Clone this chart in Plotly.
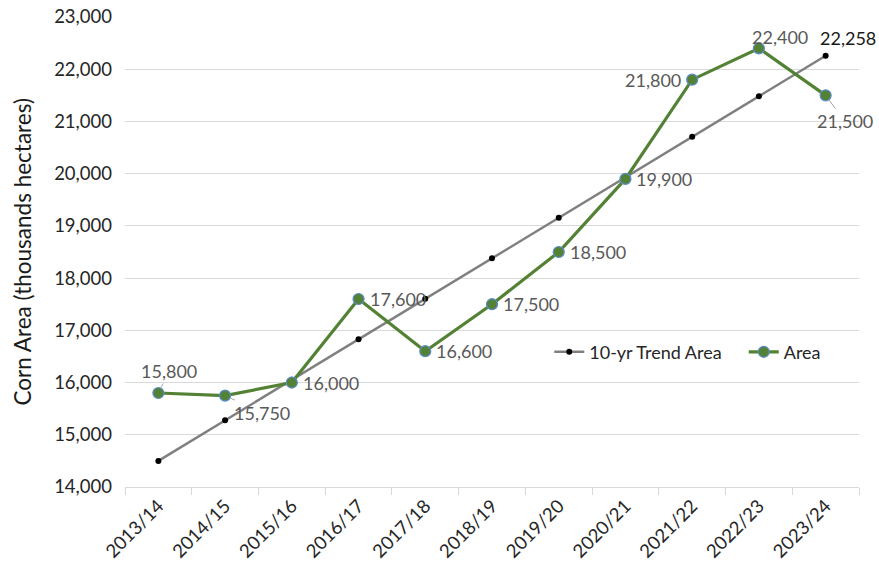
import plotly.graph_objects as go

seasons = ["2013/14", "2014/15", "2015/16", "2016/17", "2017/18", "2018/19",
           "2019/20", "2020/21", "2021/22", "2022/23", "2023/24"]
trend_area = [14500, 15276, 16052, 16827, 17603, 18379, 19155, 19931, 20706, 21482, 22258]
area = [15800, 15750, 16000, 17600, 16600, 17500, 18500, 19900, 21800, 22400, 21500]

FONT = "Lato, 'Open Sans', sans-serif"
GREEN = "#548235"
GRID = "#d9d9d9"
LABEL = "#595959"

fig = go.Figure()
fig.add_trace(go.Scatter(
    x=seasons, y=trend_area, name="10-yr Trend Area", mode="lines+markers",
    line=dict(color="#808080", width=2.5),
    marker=dict(color="black", size=6),
    legend="legend",
))
fig.add_trace(go.Scatter(
    x=seasons, y=area, name="Area", mode="lines+markers",
    line=dict(color=GREEN, width=3.2),
    marker=dict(color=GREEN, size=11, line=dict(color="#5b8bd0", width=1.2)),
    legend="legend2",
))

# label placement styles for the Area series: (mode, dx, dy, anchor)
label_style = [
    ("arrow", 11, -22, None),
    ("arrow", 37, 17, None),
    ("side", 9, 0, "left"),
    ("side", 9, 0, "left"),
    ("side", 9, 0, "left"),
    ("side", 9, 0, "left"),
    ("side", 9, 0, "left"),
    ("side", 9, 0, "left"),
    ("side", -9, 0, "right"),
    ("side", -9, 11, "left"),
    ("arrow", 19, 26, None),
]

annotations = []
for s, v, (mode, dx, dy, anc) in zip(seasons, area, label_style):
    txt = f"{v:,}"
    if mode == "arrow":
        annotations.append(dict(
            x=s, y=v, text=txt, showarrow=True, arrowhead=0, arrowwidth=1,
            arrowcolor="#a6a6a6", ax=dx, ay=dy, standoff=6,
            font=dict(family=FONT, size=18, color=LABEL),
        ))
    else:
        annotations.append(dict(
            x=s, y=v, text=txt, showarrow=False, xanchor=anc, yanchor="middle",
            xshift=dx, yshift=dy,
            font=dict(family=FONT, size=18, color=LABEL),
        ))

# trend label on the last point
annotations.append(dict(
    x=seasons[-1], y=trend_area[-1], text=f"{trend_area[-1]:,}", showarrow=False,
    xanchor="left", yanchor="middle", xshift=-8, yshift=18,
    font=dict(family=FONT, size=18, color="#1a1a1a"),
))

# y axis title
annotations.append(dict(
    text="Corn Area (thousands hectares)", xref="paper", yref="paper",
    x=-0.141, y=0.5, xanchor="center", yanchor="middle", textangle=-90,
    showarrow=False, font=dict(family=FONT, size=22.5, color="#1a1a1a"),
))

legend_style = dict(
    orientation="h", yanchor="middle", y=0.287, xanchor="left",
    bgcolor="rgba(0,0,0,0)", font=dict(family=FONT, size=18, color="#262626"),
    itemwidth=30,
)

fig.update_layout(
    width=879, height=577,
    margin=dict(l=125, r=20, t=17, b=90),
    paper_bgcolor="white", plot_bgcolor="white",
    font=dict(family=FONT, size=17, color="#404040"),
    showlegend=True,
    legend=dict(legend_style, x=0.578),
    legend2=dict(legend_style, x=0.843),
    annotations=annotations,
)
fig.update_xaxes(
    type="category", range=[-0.5, len(seasons) - 0.5],
    showgrid=False, showline=True, linecolor=GRID, linewidth=1,
    ticks="outside", tickson="boundaries", ticklen=7, tickcolor=GRID,
    tickangle=-45, automargin=False,
    tickfont=dict(family=FONT, size=18.5, color="#262626"),
)
fig.update_yaxes(
    range=[14000, 23000], dtick=1000, tickformat=",", showgrid=True,
    gridcolor=GRID, gridwidth=1, zeroline=False, showline=False, automargin=False,
    ticklabelstandoff=12, tickfont=dict(family=FONT, size=18.5, color="#262626"),
)

fig.write_html(
    "out.html",
    config={"responsive": False, "displayModeBar": False},
    post_script="document.body.style.margin='0';document.body.style.padding='0';",
)
